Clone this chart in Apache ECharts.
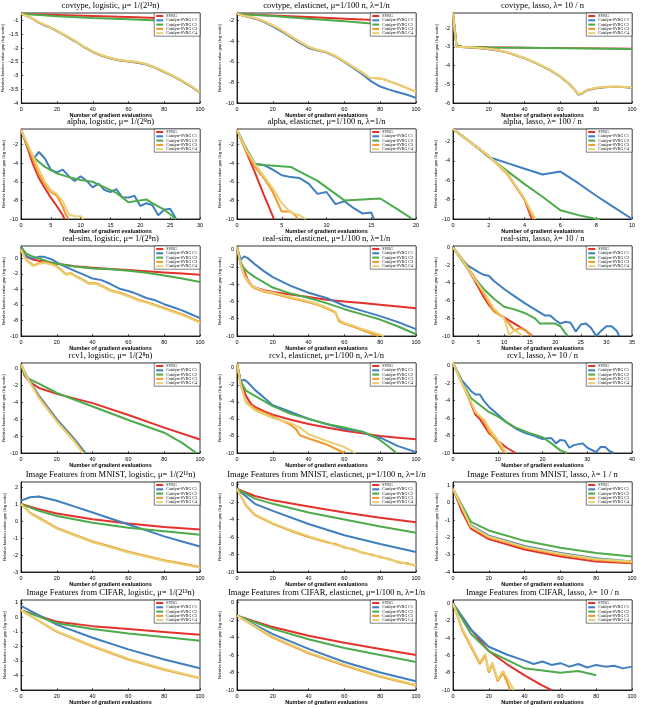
<!DOCTYPE html>
<html>
<head>
<meta charset="utf-8">
<script src="https://cdn.jsdelivr.net/npm/echarts@6/dist/echarts.min.js"></script>
<style>
  html, body { margin: 0; padding: 0; background: #fff; }
  #chart { width: 645px; height: 708px; }
</style>
</head>
<body>
<div id="chart"></div>
<script>
// legend names + colours, same order in every panel
const seriesNames = ['SVRG', 'Catalyst-SVRG C1', 'Catalyst-SVRG C2', 'Catalyst-SVRG C3', 'Catalyst-SVRG C4'];
const colors = ['#e2322b', '#3f7fc0', '#4dab4b', '#f19a2b', '#e9cf75'];

// ---- covtype, logistic
const covLogSvrg = [[0,-0.75],[20,-0.79],[40,-0.83],[60,-0.87],[80,-0.91],[100,-0.95]];
const covLogC1 = [[0,-0.75],[5,-0.88],[10,-1.08],[15,-1.22],[20,-1.38],[25,-1.56],[30,-1.75],[35,-1.96],[40,-2.14],[45,-2.28],[50,-2.38],[55,-2.45],[60,-2.49],[65,-2.53],[70,-2.6],[75,-2.72],[80,-2.87],[85,-3.03],[90,-3.2],[95,-3.4],[100,-3.62]];
const covLogC2 = [[0,-0.75],[20,-0.84],[40,-0.9],[60,-0.95],[80,-1.0],[100,-1.06]];
const covLogC3 = [[0,-0.75],[5,-0.88],[10,-1.07],[15,-1.21],[20,-1.37],[25,-1.55],[30,-1.74],[35,-1.95],[40,-2.13],[45,-2.27],[50,-2.37],[55,-2.44],[60,-2.48],[65,-2.52],[70,-2.59],[75,-2.71],[80,-2.86],[85,-3.02],[90,-3.19],[95,-3.39],[100,-3.61]];
const covLogC4 = [[0,-0.75],[5,-0.87],[10,-1.06],[15,-1.2],[20,-1.36],[25,-1.54],[30,-1.73],[35,-1.94],[40,-2.12],[45,-2.26],[50,-2.36],[55,-2.43],[60,-2.47],[65,-2.51],[70,-2.58],[75,-2.7],[80,-2.85],[85,-3.01],[90,-3.18],[95,-3.38],[100,-3.6]];

// ---- covtype, elasticnet
const covEnSvrg = [[0,-1.35],[20,-1.5],[40,-1.65],[60,-1.8],[80,-1.95],[100,-2.1]];
const covEnC1 = [[0,-1.3],[3,-1.5],[10,-1.8],[15,-2.1],[20,-2.55],[25,-3.05],[30,-3.6],[35,-4.15],[40,-4.65],[45,-4.9],[50,-5.1],[55,-5.5],[60,-6.0],[65,-6.6],[70,-7.2],[75,-7.9],[80,-8.4],[85,-8.7],[90,-8.95],[95,-9.2],[100,-9.5]];
const covEnC2 = [[0,-1.35],[20,-1.55],[40,-1.8],[60,-2.05],[80,-2.35],[100,-2.6]];
const covEnC3 = [[0,-1.3],[3,-1.5],[10,-1.75],[15,-2.05],[20,-2.45],[25,-2.95],[30,-3.5],[35,-4.05],[40,-4.55],[45,-4.85],[50,-5.05],[55,-5.45],[60,-5.95],[65,-6.5],[70,-7.05],[74,-7.55],[78,-7.6],[82,-7.7],[86,-7.95],[90,-8.2],[95,-8.55],[100,-8.9]];
const covEnC4 = [[0,-1.3],[3,-1.5],[10,-1.74],[15,-2.04],[20,-2.44],[25,-2.94],[30,-3.49],[35,-4.04],[40,-4.54],[45,-4.84],[50,-5.04],[55,-5.44],[60,-5.94],[65,-6.49],[70,-7.04],[74,-7.54],[78,-7.59],[82,-7.69],[86,-7.94],[90,-8.19],[95,-8.54],[100,-8.89]];

// ---- covtype, lasso
const covLaSvrg = [[0,-1.2],[1,-2.1],[2,-2.95],[5,-3.0],[20,-3.03],[50,-3.06],[100,-3.1]];
const covLaC1 = [[0,-1.2],[1,-2.2],[2,-3.0],[5,-3.02],[10,-3.05],[15,-3.08],[20,-3.13],[25,-3.2],[30,-3.3],[35,-3.45],[40,-3.62],[45,-3.82],[50,-4.05],[55,-4.3],[60,-4.6],[65,-5.0],[68,-5.3],[70,-5.56],[72,-5.5],[75,-5.32],[80,-5.22],[85,-5.16],[90,-5.14],[95,-5.15],[100,-5.2]];
const covLaC2 = [[0,-1.2],[1,-2.1],[2,-2.95],[5,-3.0],[20,-3.04],[50,-3.07],[100,-3.12]];
const covLaC3 = [[0,-1.2],[1,-2.2],[2,-3.0],[5,-3.01],[10,-3.04],[15,-3.07],[20,-3.12],[25,-3.19],[30,-3.29],[35,-3.44],[40,-3.61],[45,-3.81],[50,-4.03],[55,-4.28],[60,-4.58],[65,-4.98],[68,-5.28],[70,-5.54],[72,-5.48],[75,-5.3],[80,-5.2],[85,-5.15],[90,-5.13],[95,-5.14],[100,-5.19]];
const covLaC4 = [[0,-1.2],[1,-2.2],[2,-3.0],[5,-3.01],[10,-3.03],[15,-3.06],[20,-3.11],[25,-3.18],[30,-3.28],[35,-3.43],[40,-3.6],[45,-3.8],[50,-4.02],[55,-4.27],[60,-4.57],[65,-4.97],[68,-5.27],[70,-5.53],[72,-5.47],[75,-5.29],[80,-5.19],[85,-5.14],[90,-5.12],[95,-5.13],[100,-5.18]];

// ---- alpha, logistic
const alpLogSvrg = [[0,-0.4],[1,-2.2],[2,-4.1],[3,-5.6],[4,-6.7],[5,-7.7],[6,-8.6],[7,-9.6],[7.3,-10]];
const alpLogC1 = [[0,-0.4],[1,-2.0],[2,-3.6],[3,-2.8],[4,-3.5],[5,-4.7],[6,-5.0],[7,-4.7],[8,-5.4],[9,-5.9],[10,-5.4],[11,-5.9],[12,-6.6],[13,-6.2],[14,-6.9],[15,-7.1],[16,-6.8],[17,-7.7],[18,-7.7],[19,-7.5],[20,-8.6],[21,-8.3],[22,-8.5],[23,-9.6],[24,-9.0],[25,-8.9],[26,-10]];
const alpLogC2 = [[0,-0.4],[1,-2.0],[2,-3.3],[4,-4.4],[6,-5.1],[8,-5.5],[10,-5.8],[12,-6.0],[14,-6.6],[16,-7.2],[18,-8.2],[20,-8.0],[21,-7.9],[22,-8.3],[24,-9.0],[26,-10]];
const alpLogC3 = [[0,-0.4],[1,-2.0],[2,-3.6],[3,-5.2],[4,-6.3],[5,-7.1],[6,-7.5],[7,-8.7],[7.5,-9.5],[8,-10]];
const alpLogC4 = [[0,-0.4],[1,-1.8],[2,-3.2],[3,-4.7],[4,-6.0],[5,-6.9],[6,-7.3],[7,-8.1],[8,-9.5],[9,-9.7],[10,-9.7],[10.5,-10]];

// ---- alpha, elasticnet
const alpEnSvrg = [[0,-0.4],[1,-2.7],[2,-5.0],[3,-7.4],[4,-9.7],[4.1,-10]];
const alpEnC1 = [[0,-0.4],[1,-2.4],[2,-4.1],[3,-4.2],[4,-4.7],[5,-5.3],[6,-5.5],[7,-5.6],[8,-6.2],[9,-7.3],[10,-7.1],[11,-8.4],[12,-8.1],[13,-8.8],[14,-9.4],[15,-9.3],[15.3,-10]];
const alpEnC2 = [[0,-0.4],[1,-2.4],[2,-4.1],[3,-4.2],[6,-4.4],[7,-4.9],[9,-5.9],[10,-6.6],[11,-7.3],[12,-8.0],[16,-7.8],[18,-9.0],[19.6,-10]];
const alpEnC3 = [[0,-0.4],[1,-2.7],[2,-4.4],[3,-5.6],[4,-7.1],[5,-9.2],[6,-9.2],[6.5,-9.6],[6.8,-10]];
const alpEnC4 = [[0,-0.4],[1,-2.5],[2,-4.1],[3,-5.4],[4,-6.7],[5,-8.3],[6,-9.3],[7,-9.6],[7.7,-10]];

// ---- alpha, lasso
const alpLaSvrg = [[0,-0.7],[1,-2.1],[2,-3.5],[3,-5.2],[4,-8.0],[4.4,-10]];
const alpLaC1 = [[0,-0.7],[1,-2.1],[2,-3.6],[3,-4.2],[4,-4.8],[5,-5.4],[6,-5.1],[7,-6.3],[8,-7.6],[9,-8.8],[10,-10]];
const alpLaC2 = [[0,-0.7],[1,-2.1],[2,-3.6],[3,-5.0],[4,-6.4],[5,-7.7],[6,-9.1],[7,-9.6],[8,-10],[8.2,-10]];
const alpLaC3 = [[0,-0.7],[1,-2.1],[2,-3.5],[3,-5.3],[4,-8.0],[4.5,-10]];
const alpLaC4 = [[0,-0.7],[1,-2.1],[2,-3.5],[3,-5.2],[4,-7.9],[4.6,-10]];

// ---- real-sim, logistic
const rsLogSvrg = [[0,0.9],[3,0.2],[6,-0.1],[10,-0.3],[20,-0.7],[30,-1.0],[40,-1.2],[50,-1.35],[60,-1.5],[70,-1.65],[80,-1.8],[90,-1.95],[100,-2.1]];
const rsLogC1 = [[0,1.5],[3,0.3],[6,0],[10,0.2],[13,0.2],[17,-0.1],[20,-0.5],[25,-1.1],[30,-1.6],[35,-2.1],[40,-2.6],[45,-2.8],[50,-3.3],[55,-3.9],[60,-4.2],[65,-4.6],[70,-5.1],[75,-5.4],[80,-5.9],[85,-6.3],[90,-6.7],[95,-7.2],[100,-7.7]];
const rsLogC2 = [[0,1.5],[3,0.6],[6,0.3],[10,0],[15,-0.4],[20,-0.7],[30,-1.05],[40,-1.3],[50,-1.4],[60,-1.6],[70,-1.85],[80,-2.2],[90,-2.6],[100,-3.05]];
const rsLogC3 = [[0,1.2],[3,-0.2],[7,-0.9],[10,-0.6],[13,-0.5],[17,-0.7],[20,-1.0],[23,-1.6],[25,-2.0],[28,-1.9],[30,-2.2],[35,-2.8],[38,-3.2],[42,-3.2],[45,-3.5],[50,-4.1],[55,-4.4],[60,-4.8],[65,-5.3],[70,-5.6],[75,-6.0],[80,-6.4],[85,-6.8],[90,-7.2],[95,-7.7],[100,-8.2]];
const rsLogC4 = [[0,1.1],[3,-0.3],[7,-1.0],[10,-0.7],[13,-0.6],[17,-0.8],[20,-1.1],[23,-1.7],[25,-2.1],[28,-2.0],[30,-2.3],[35,-2.9],[38,-3.3],[42,-3.3],[45,-3.6],[50,-4.2],[55,-4.5],[60,-4.9],[65,-5.4],[70,-5.7],[75,-6.1],[80,-6.5],[85,-6.9],[90,-7.3],[95,-7.8],[100,-8.3]];

// ---- real-sim, elasticnet
const rsEnSvrg = [[0,0.3],[2,-1.5],[4,-2.5],[6,-3.5],[8,-4.1],[10,-4.4],[15,-4.7],[20,-4.9],[30,-5.2],[40,-5.5],[50,-5.8],[60,-6.0],[70,-6.2],[80,-6.4],[90,-6.6],[100,-6.8]];
const rsEnC1 = [[0,0.3],[2,-1.2],[4,-0.8],[6,-1.0],[10,-1.7],[15,-2.5],[20,-3.2],[30,-4.2],[40,-5.0],[50,-5.6],[60,-6.5],[70,-7.1],[80,-7.7],[90,-8.4],[100,-9.2]];
const rsEnC2 = [[0,0.3],[2,-1.5],[4,-2.2],[6,-2.6],[10,-3.2],[15,-3.8],[20,-4.4],[30,-5.1],[40,-5.6],[50,-6.2],[60,-6.9],[70,-7.5],[80,-8.1],[90,-8.9],[100,-9.8]];
const rsEnC3 = [[0,0.3],[2,-1.8],[4,-3.0],[6,-3.7],[8,-4.2],[10,-4.5],[15,-4.9],[20,-5.1],[30,-5.6],[40,-6.1],[45,-6.4],[50,-6.8],[55,-7.3],[57,-8.3],[60,-8.6],[65,-8.9],[70,-9.3],[75,-9.7],[79,-10]];
const rsEnC4 = [[0,0.3],[2,-1.7],[4,-2.9],[6,-3.6],[8,-4.1],[10,-4.4],[15,-4.8],[20,-5.0],[30,-5.5],[40,-6.0],[45,-6.3],[50,-6.7],[55,-7.2],[57,-8.1],[60,-8.5],[65,-8.8],[70,-9.2],[75,-9.5],[82,-10]];

// ---- real-sim, lasso
const rsLaSvrg = [[0,0],[2,-1.6],[4,-3.5],[6,-5.6],[7,-6.5],[8,-7.2],[10,-7.9],[12,-8.6],[14,-9.3],[15.5,-10]];
const rsLaC1 = [[0,0],[2,-1.5],[3,-2.1],[5,-2.8],[6,-3.1],[7,-3.2],[8,-3.8],[10,-4.7],[12,-5.5],[14,-6.3],[16,-7.0],[18,-7.7],[19,-7.7],[20,-8.2],[21,-8.6],[22,-8.4],[23,-8.5],[24,-9.5],[25,-8.7],[26,-8.6],[27,-9.1],[28,-10],[29,-9.4],[30,-8.9],[31,-8.9],[32,-9.4],[32.5,-10]];
const rsLaC2 = [[0,0],[2,-1.7],[4,-3.3],[6,-4.7],[8,-5.8],[10,-6.7],[12,-7.0],[14,-7.4],[16,-8.0],[17,-8.6],[20,-8.6],[21,-8.9],[22,-9.7],[22.5,-10]];
const rsLaC3 = [[0,0],[2,-1.5],[4,-3.2],[6,-5.3],[8,-7.2],[10,-8.0],[11,-8.6],[12,-9.4],[13,-9.1],[14,-9.3],[15,-9.8],[15.3,-10]];
const rsLaC4 = [[0,0],[2,-1.6],[4,-3.4],[6,-5.0],[8,-6.9],[10,-8.0],[11,-9.9],[12,-9.3],[13,-9.7],[13.5,-10]];

// ---- rcv1, logistic
const rcLogSvrg = [[0,0.5],[2,-0.8],[5,-1.6],[10,-2.3],[20,-3.0],[40,-4.1],[60,-5.5],[80,-7.0],[100,-8.4]];
const rcLogC1 = [[0,0.5],[3,-0.8],[5,-1.5],[10,-3.2],[20,-6.0],[30,-8.4],[36,-10]];
const rcLogC2 = [[0,0.5],[2,-0.8],[5,-1.3],[10,-1.8],[20,-2.9],[40,-4.5],[60,-6.1],[80,-7.6],[90,-8.8],[98,-10]];
const rcLogC3 = [[0,0.5],[3,-0.9],[5,-1.6],[10,-3.4],[20,-6.2],[30,-8.6],[35,-10]];
const rcLogC4 = [[0,0.5],[3,-0.9],[5,-1.7],[10,-3.5],[20,-6.3],[30,-8.7],[34.6,-10]];

// ---- rcv1, elasticnet
const rcEnSvrg = [[0,0.5],[2,-1.5],[5,-3.3],[8,-4.3],[10,-4.6],[15,-5.1],[20,-5.5],[30,-6.1],[40,-6.6],[50,-7.0],[60,-7.4],[70,-7.7],[80,-8.0],[90,-8.2],[100,-8.4]];
const rcEnC1 = [[0,0.5],[2,-1.6],[4,-1.4],[6,-1.7],[10,-2.6],[15,-3.5],[20,-4.4],[30,-5.2],[40,-6.0],[50,-6.6],[60,-7.2],[70,-7.5],[75,-8.0],[80,-8.2],[90,-9.2],[100,-9.9]];
const rcEnC2 = [[0,0.5],[2,-1.6],[5,-2.7],[10,-3.3],[20,-4.5],[30,-5.4],[40,-6.0],[50,-6.6],[60,-7.0],[70,-7.5],[75,-7.9],[80,-8.5],[85,-9.3],[89,-10]];
const rcEnC3 = [[0,0.5],[2,-2.0],[5,-4.0],[10,-4.8],[20,-5.7],[30,-6.7],[33,-7.2],[35,-7.9],[40,-8.3],[50,-9.0],[55,-9.5],[60,-10]];
const rcEnC4 = [[0,0.5],[2,-1.9],[5,-4.1],[10,-5.0],[20,-5.9],[30,-6.5],[35,-7.0],[40,-7.8],[50,-8.6],[60,-9.3],[66,-10]];

// ---- rcv1, lasso
const rcLaSvrg = [[0,0.3],[2,-1.9],[4,-4.3],[5,-5.6],[6,-6.1],[7,-6.9],[8,-7.7],[10,-8.6],[12,-9.4],[14,-10]];
const rcLaC1 = [[0,0.3],[2,-1.7],[3,-2.3],[4,-2.9],[5,-3.3],[6,-3.3],[7,-4.1],[8,-4.7],[10,-5.6],[12,-6.5],[14,-7.2],[16,-7.7],[18,-8.0],[20,-8.4],[21,-8.3],[22,-8.3],[23,-8.9],[24,-8.5],[25,-8.6],[26,-9.4],[27,-9.1],[29,-8.9],[30,-9.4],[32,-9.9],[33,-9.3],[34,-9.3],[35,-9.8],[36,-10]];
const rcLaC2 = [[0,0.3],[2,-2.0],[3,-2.8],[4,-3.7],[6,-4.5],[8,-5.3],[10,-5.8],[12,-6.5],[14,-7.1],[17,-7.7],[20,-8.2],[22,-8.9],[24,-9.7],[25.5,-10]];
const rcLaC3 = [[0,0.3],[2,-2.0],[4,-4.2],[5,-5.4],[6,-5.8],[7,-6.4],[8,-7.5],[10,-8.9],[11.5,-10]];
const rcLaC4 = [[0,0.3],[2,-2.0],[4,-4.1],[5,-5.2],[6,-5.8],[7,-6.2],[8,-7.1],[10,-8.5],[12,-10]];

// ---- MNIST features, logistic
const mnLogSvrg = [[0,1],[10,0.7],[20,0.45],[40,0.1],[60,-0.15],[80,-0.35],[100,-0.5]];
const mnLogC1 = [[0,1.2],[5,1.4],[10,1.45],[20,1.2],[30,0.85],[40,0.5],[50,0.15],[60,-0.2],[70,-0.55],[80,-0.9],[90,-1.2],[100,-1.5]];
const mnLogC2 = [[0,1],[10,0.6],[20,0.3],[40,-0.1],[60,-0.4],[80,-0.6],[100,-0.8]];
const mnLogC3 = [[0,1],[5,0.5],[10,0.2],[20,-0.4],[30,-0.8],[40,-1.2],[50,-1.5],[60,-1.8],[70,-2.05],[80,-2.3],[90,-2.5],[100,-2.7]];
const mnLogC4 = [[0,1],[5,0.45],[10,0.15],[20,-0.45],[30,-0.85],[40,-1.25],[50,-1.55],[60,-1.85],[70,-2.1],[80,-2.35],[90,-2.55],[100,-2.75]];

// ---- MNIST features, elasticnet
const mnEnSvrg = [[0,-0.5],[10,-1.3],[20,-1.8],[40,-2.5],[60,-3.2],[80,-3.8],[100,-4.3]];
const mnEnC1 = [[0,-0.5],[10,-2.2],[20,-3.0],[40,-4.5],[60,-5.8],[80,-6.8],[100,-7.7]];
const mnEnC2 = [[0,-0.5],[10,-1.6],[20,-2.2],[40,-3.2],[60,-4.0],[80,-4.8],[100,-5.5]];
const mnEnC3 = [[0,-0.5],[5,-2.4],[10,-3.5],[20,-4.5],[30,-5.3],[40,-6.0],[50,-6.6],[55,-6.8],[60,-7.2],[65,-7.4],[70,-7.8],[75,-8.0],[80,-8.3],[85,-8.5],[90,-8.9],[95,-9.0],[100,-9.3]];
const mnEnC4 = [[0,-0.5],[5,-2.3],[10,-3.4],[20,-4.4],[30,-5.2],[40,-5.9],[50,-6.5],[55,-6.9],[60,-7.1],[65,-7.5],[70,-7.7],[75,-8.1],[80,-8.2],[85,-8.6],[90,-8.8],[95,-9.1],[100,-9.2]];

// ---- MNIST features, lasso
const mnLaSvrg = [[0,0.8],[5,-0.5],[10,-1.5],[20,-2.1],[40,-2.7],[60,-3.1],[80,-3.4],[100,-3.5]];
const mnLaC1 = [[0,0.8],[10,-1.3],[20,-1.9],[40,-2.5],[60,-2.9],[80,-3.2],[100,-3.4]];
const mnLaC2 = [[0,0.8],[10,-1.1],[20,-1.6],[40,-2.2],[60,-2.6],[80,-2.9],[100,-3.1]];
const mnLaC3 = [[0,0.8],[10,-1.4],[20,-2.0],[40,-2.6],[60,-3.0],[80,-3.3],[100,-3.45]];
const mnLaC4 = [[0,0.8],[10,-1.35],[20,-1.95],[40,-2.55],[60,-2.95],[80,-3.25],[100,-3.4]];

// ---- CIFAR features, logistic
const ciLogSvrg = [[0,0.5],[20,-0.3],[40,-0.6],[60,-0.8],[80,-1.0],[100,-1.2]];
const ciLogC1 = [[0,0.8],[20,-0.5],[40,-1.4],[60,-2.2],[80,-2.9],[100,-3.5]];
const ciLogC2 = [[0,0.5],[20,-0.4],[40,-0.8],[60,-1.1],[80,-1.35],[100,-1.6]];
const ciLogC3 = [[0,0.5],[20,-1.0],[40,-2.0],[60,-2.9],[80,-3.6],[100,-4.2]];
const ciLogC4 = [[0,0.5],[20,-0.95],[40,-1.95],[60,-2.85],[80,-3.55],[100,-4.15]];

// ---- CIFAR features, elasticnet
const ciEnSvrg = [[0,-1.5],[20,-2.8],[40,-3.8],[60,-4.6],[80,-5.3],[100,-6.0]];
const ciEnC1 = [[0,-1.5],[20,-3.6],[40,-5.3],[60,-6.8],[80,-8.0],[100,-9.0]];
const ciEnC2 = [[0,-1.5],[20,-3.0],[40,-4.2],[60,-5.2],[80,-6.0],[100,-6.8]];
const ciEnC3 = [[0,-1.5],[20,-4.0],[40,-5.8],[60,-7.2],[80,-8.5],[100,-9.5]];
const ciEnC4 = [[0,-1.5],[20,-3.9],[40,-5.7],[60,-7.1],[80,-8.4],[100,-9.4]];

// ---- CIFAR features, lasso
const ciLaSvrg = [[0,0],[10,-3],[20,-5.5],[30,-7],[40,-8.3],[50,-9.5],[55,-10]];
const ciLaC1 = [[0,0],[10,-3],[20,-5],[30,-5.9],[40,-6.6],[45,-7.0],[50,-6.7],[55,-7.1],[60,-6.9],[65,-7.3],[70,-7.0],[75,-7.4],[80,-7.1],[85,-7.3],[90,-7.2],[95,-7.5],[100,-7.3]];
const ciLaC2 = [[0,0],[10,-3.5],[20,-5.5],[40,-7.5],[60,-8],[70,-7.8],[80,-8.3]];
const ciLaC3 = [[0,0],[5,-3],[10,-5],[15,-7],[18,-6],[20,-8],[22,-7],[25,-9],[28,-8],[32,-10]];
const ciLaC4 = [[0,0],[5,-2.8],[10,-4.8],[15,-6.8],[18,-5.8],[20,-7.8],[22,-6.8],[25,-8.8],[28,-7.8],[34,-10]];

// panel list: title, x axis [min,max,step], y axis [min,max,step], lines in legend order
const panels = [
  { title: 'covtype, logistic, μ= 1/(2¹²n)', x: [0, 100, 20], y: [-4, -0.72, 0.5], lines: [covLogSvrg, covLogC1, covLogC2, covLogC3, covLogC4] },
  { title: 'covtype, elasticnet, μ=1/100 n, λ=1/n', x: [0, 100, 20], y: [-10, -1.25, 2], lines: [covEnSvrg, covEnC1, covEnC2, covEnC3, covEnC4] },
  { title: 'covtype, lasso, λ= 10 / n', x: [0, 100, 20], y: [-6, -1.2, 1], lines: [covLaSvrg, covLaC1, covLaC2, covLaC3, covLaC4] },
  { title: 'alpha, logistic, μ= 1/(2⁸n)', x: [0, 30, 5], y: [-10, -0.33, 2], lines: [alpLogSvrg, alpLogC1, alpLogC2, alpLogC3, alpLogC4] },
  { title: 'alpha, elasticnet, μ=1/100 n, λ=1/n', x: [0, 20, 5], y: [-10, -0.33, 2], lines: [alpEnSvrg, alpEnC1, alpEnC2, alpEnC3, alpEnC4] },
  { title: 'alpha, lasso, λ= 100 / n', x: [0, 10, 2], y: [-10, -0.7, 2], lines: [alpLaSvrg, alpLaC1, alpLaC2, alpLaC3, alpLaC4] },
  { title: 'real-sim, logistic, μ= 1/(2⁸n)', x: [0, 100, 20], y: [-10, 1.6, 2], lines: [rsLogSvrg, rsLogC1, rsLogC2, rsLogC3, rsLogC4] },
  { title: 'real-sim, elasticnet, μ=1/100 n, λ=1/n', x: [0, 100, 20], y: [-10, 0.4, 2], lines: [rsEnSvrg, rsEnC1, rsEnC2, rsEnC3, rsEnC4] },
  { title: 'real-sim, lasso, λ= 10 / n', x: [0, 35, 5], y: [-10, 0.15, 2], lines: [rsLaSvrg, rsLaC1, rsLaC2, rsLaC3, rsLaC4] },
  { title: 'rcv1, logistic, μ= 1/(2⁸n)', x: [0, 100, 20], y: [-10, 0.65, 2], lines: [rcLogSvrg, rcLogC1, rcLogC2, rcLogC3, rcLogC4] },
  { title: 'rcv1, elasticnet, μ=1/100 n, λ=1/n', x: [0, 100, 20], y: [-10, 0.55, 2], lines: [rcEnSvrg, rcEnC1, rcEnC2, rcEnC3, rcEnC4] },
  { title: 'rcv1, lasso, λ= 10 / n', x: [0, 40, 10], y: [-10, 0.3, 2], lines: [rcLaSvrg, rcLaC1, rcLaC2, rcLaC3, rcLaC4] },
  { title: 'Image Features from MNIST, logistic, μ= 1/(2¹¹n)', x: [0, 100, 20], y: [-3, 2.3, 1], lines: [mnLogSvrg, mnLogC1, mnLogC2, mnLogC3, mnLogC4] },
  { title: 'Image Features from MNIST, elasticnet, μ=1/100 n, λ=1/n', x: [0, 100, 20], y: [-10, 0.3, 2], lines: [mnEnSvrg, mnEnC1, mnEnC2, mnEnC3, mnEnC4] },
  { title: 'Image Features from MNIST, lasso, λ= 1 / n', x: [0, 100, 20], y: [-4, 1.2, 1], lines: [mnLaSvrg, mnLaC1, mnLaC2, mnLaC3, mnLaC4] },
  { title: 'Image Features from CIFAR, logistic, μ= 1/(2¹³n)', x: [0, 100, 20], y: [-5, 1.2, 1], lines: [ciLogSvrg, ciLogC1, ciLogC2, ciLogC3, ciLogC4] },
  { title: 'Image Features from CIFAR, elasticnet, μ=1/100 n, λ=1/n', x: [0, 100, 20], y: [-10, 0.3, 2], lines: [ciEnSvrg, ciEnC1, ciEnC2, ciEnC3, ciEnC4] },
  { title: 'Image Features from CIFAR, lasso, λ= 10 / n', x: [0, 100, 20], y: [-10, 0.4, 2], lines: [ciLaSvrg, ciLaC1, ciLaC2, ciLaC3, ciLaC4] }
];

// page grid (pixels)
const colLeft = [21, 237, 453];
const rowTop = [13, 129, 246, 363, 482, 600];
const plotW = 179, plotH = 90;

const chart = echarts.init(document.getElementById('chart'), null, { renderer: 'canvas' });

const grid = [], xAxis = [], yAxis = [], series = [], legend = [], graphic = [];

panels.forEach(function (p, i) {
  const left = colLeft[i % 3], top = rowTop[Math.floor(i / 3)];
  grid.push({ left: left, top: top, width: plotW, height: plotH, show: true, borderColor: '#000', borderWidth: 0.8, containLabel: false });

  const axisCommon = {
    gridIndex: i,
    type: 'value',
    splitLine: { show: false },
    axisLine: { show: true, onZero: false, lineStyle: { color: '#000', width: 0.8 } },
    axisTick: { show: true, inside: true, length: 2, lineStyle: { color: '#000', width: 0.6 } },
    axisLabel: { color: '#000', fontSize: 5.5, fontFamily: 'Liberation Sans', margin: 3 }
  };

  xAxis.push(Object.assign({}, axisCommon, {
    min: p.x[0], max: p.x[1], interval: p.x[2],
    name: 'Number of gradient evaluations',
    nameLocation: 'middle', nameGap: 8,
    nameTextStyle: { fontSize: 5.5, fontWeight: 'bold', color: '#000', fontFamily: 'Liberation Sans' }
  }));

  yAxis.push(Object.assign({}, axisCommon, {
    min: p.y[0], max: p.y[1], interval: p.y[2],
    axisLabel: Object.assign({}, axisCommon.axisLabel, { showMaxLabel: false }),
    name: 'Relative function value gap (log scale)',
    nameLocation: 'middle', nameGap: 14, nameRotate: 90,
    nameTextStyle: { fontSize: 4, color: '#000', fontFamily: 'Liberation Sans' }
  }));

  p.lines.forEach(function (d, k) {
    series.push({
      name: seriesNames[k], type: 'line', xAxisIndex: i, yAxisIndex: i,
      data: d, symbol: 'none', smooth: false, clip: true,
      lineStyle: { width: 2, color: colors[k] }, itemStyle: { color: colors[k] }
    });
  });

  legend.push({
    data: seriesNames, orient: 'vertical', selectedMode: false,
    right: 645 - (left + plotW), top: top,
    itemWidth: 7, itemHeight: 2, itemGap: 0.3,
    padding: [1, 3, 1, 1], borderColor: '#000', borderWidth: 0.5, backgroundColor: '#fff',
    textStyle: { fontSize: 4, fontFamily: 'Liberation Serif', color: '#000', padding: [0, 0, 0, -2] }
  });

  // panel title, centred over its plot
  graphic.push({
    type: 'text', x: left + plotW / 2, y: top - 11.5,
    style: { text: p.title, fill: '#000', font: '8.5px "Liberation Serif"', align: 'center', verticalAlign: 'top', textAlign: 'center', textVerticalAlign: 'top' }
  });
});

chart.setOption({
  animation: false,
  backgroundColor: '#fff',
  grid: grid,
  xAxis: xAxis,
  yAxis: yAxis,
  legend: legend,
  series: series,
  graphic: graphic
});
</script>
</body>
</html>
